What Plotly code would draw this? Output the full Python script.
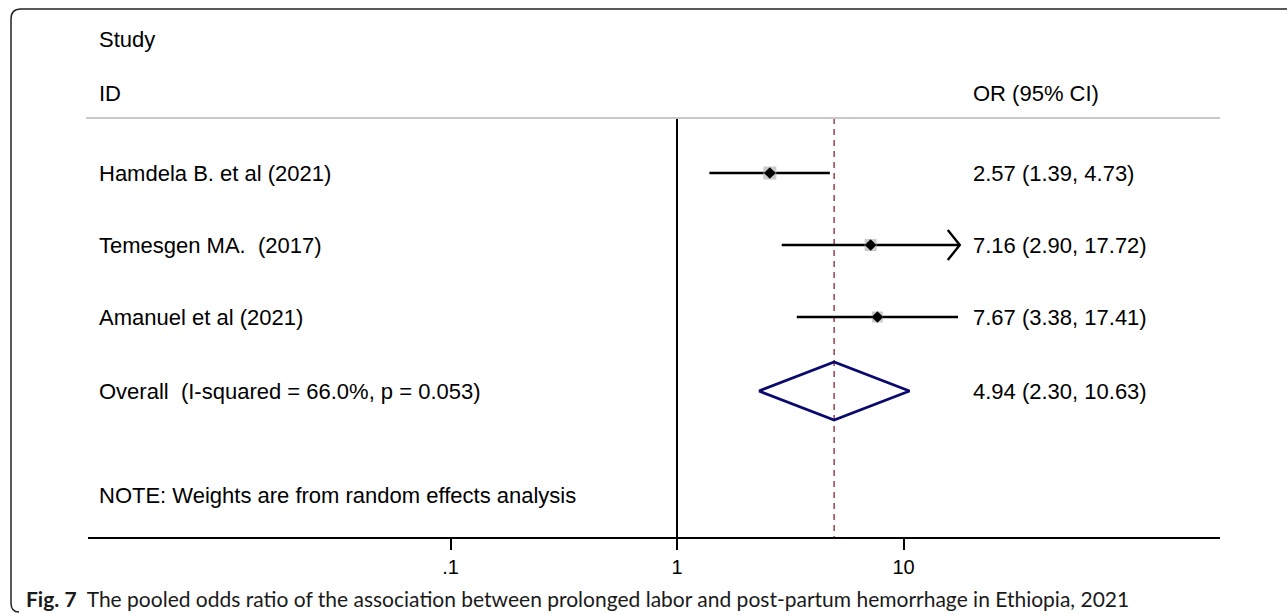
import math
import plotly.graph_objects as go

# ---- data ----
studies = ["Hamdela B. et al (2021)", "Temesgen MA.  (2017)", "Amanuel et al (2021)"]
or_est = [2.57, 7.16, 7.67]
ci_low = [1.39, 2.90, 3.38]
ci_high = [4.73, 17.72, 17.41]
overall_label = "Overall  (I-squared = 66.0%, p = 0.053)"
overall_est = 4.94
overall_low = 2.30
overall_high = 10.63
tick_vals = [0.1, 1, 10]
tick_text = [".1", "1", "10"]
note = "NOTE: Weights are from random effects analysis"
caption_bold = "Fig. 7"
caption_rest = "  The pooled odds ratio of the association between prolonged labor and post-partum hemorrhage in Ethiopia, 2021"

# ---- layout geometry (pixels) ----
W, H = 1287, 613
ax_left, ax_right, ax_y = 88, 1220, 537
px_one, px_decade = 677, 226.5
row_y = [173, 245, 317]
overall_y = 391
header_line_y = 118
name_x = 97
est_x = 971
box_sizes = [13, 12, 11]

log_lo = (ax_left - px_one) / px_decade
log_hi = (ax_right - px_one) / px_decade

FONT = "Arial, Liberation Sans, Helvetica, sans-serif"
TXT = dict(family=FONT, size=22, color="#000000")

fig = go.Figure()

# null line at OR = 1
fig.add_trace(go.Scatter(x=[1, 1], y=[header_line_y, ax_y], mode="lines",
                         line=dict(color="#000000", width=2), hoverinfo="skip"))
# pooled estimate reference line
fig.add_trace(go.Scatter(x=[overall_est, overall_est], y=[header_line_y, ax_y], mode="lines",
                         line=dict(color="#a34a55", width=1.6, dash="6px,5px"), hoverinfo="skip"))

# confidence interval lines
for y, lo, hi in zip(row_y, ci_low, ci_high):
    fig.add_trace(go.Scatter(x=[lo, hi], y=[y, y], mode="lines",
                             line=dict(color="#000000", width=2.4), hoverinfo="skip"))

# arrow head on the interval that runs past the plotted range
arrow_back = 12 / px_decade
arrow_half = 15
i_arrow = 1
tip = ci_high[i_arrow]
back = 10 ** (math.log10(tip) - arrow_back)
fig.add_trace(go.Scatter(x=[back, tip, back],
                         y=[row_y[i_arrow] - arrow_half, row_y[i_arrow], row_y[i_arrow] + arrow_half],
                         mode="lines", line=dict(color="#000000", width=2.4), hoverinfo="skip"))

# weight boxes and point estimates
fig.add_trace(go.Scatter(x=or_est, y=row_y, mode="markers",
                         marker=dict(symbol="square", size=box_sizes, color="#b3b3b3", line=dict(width=0)),
                         hoverinfo="skip"))
fig.add_trace(go.Scatter(x=or_est, y=row_y, mode="markers",
                         marker=dict(symbol="diamond", size=9, color="#000000", line=dict(width=0)),
                         hoverinfo="skip"))

# pooled diamond
fig.add_trace(go.Scatter(x=[overall_low, overall_est, overall_high, overall_est, overall_low],
                         y=[overall_y, overall_y - 29, overall_y, overall_y + 29, overall_y],
                         mode="lines", line=dict(color="#0a0a6e", width=2.8), hoverinfo="skip"))

annotations = []


def text(x_px, y_px, s, font=TXT):
    annotations.append(dict(x=x_px / W, y=y_px, xref="paper", yref="y", text=s, showarrow=False,
                            xanchor="left", yanchor="middle", font=font))


text(name_x, 39, "Study")
text(name_x, 93, "ID")
text(est_x, 93, "OR (95% CI)")
for y, name, e, lo, hi in zip(row_y, studies, or_est, ci_low, ci_high):
    text(name_x, y, name)
    text(est_x, y, f"{e:.2f} ({lo:.2f}, {hi:.2f})")
text(name_x, overall_y, overall_label)
text(est_x, overall_y, f"{overall_est:.2f} ({overall_low:.2f}, {overall_high:.2f})")
text(name_x, 495, note)

# figure caption
CAP = dict(family="Lato, Liberation Sans, sans-serif", size=21, color="#1a1a1a")
annotations.append(dict(x=24 / W, y=1 - 598 / H, xref="paper", yref="paper",
                        text=f"<b>{caption_bold}</b>{caption_rest}", showarrow=False,
                        xanchor="left", yanchor="middle", font=CAP))


def px(x, y):
    return f"{x / W:.5f},{1 - y / H:.5f}"


frame_path = (f"M {px(W + 2, 9)} L {px(21, 9)} Q {px(11, 9)} {px(11, 19)} "
              f"L {px(11, 603)} Q {px(11, 612)} {px(19, 612)}")

shapes = [
    dict(type="line", xref="paper", yref="y", x0=86 / W, x1=ax_right / W, y0=header_line_y, y1=header_line_y,
         line=dict(color="#c8c8c8", width=2)),
    dict(type="path", xref="paper", yref="paper", path=frame_path, line=dict(color="#222222", width=1.5)),
]

fig.update_layout(
    width=W, height=H,
    margin=dict(l=0, r=0, t=0, b=0),
    paper_bgcolor="#ffffff", plot_bgcolor="#ffffff",
    showlegend=False,
    annotations=annotations,
    shapes=shapes,
    xaxis=dict(type="log", domain=[ax_left / W, ax_right / W], range=[log_lo, log_hi],
               tickvals=tick_vals, ticktext=tick_text, ticks="outside", ticklen=11, tickwidth=2,
               tickcolor="#000000", showline=True, linecolor="#000000", linewidth=2,
               showgrid=False, zeroline=False, tickfont=dict(family=FONT, size=20, color="#000000")),
    yaxis=dict(domain=[(H - ax_y) / H, 1], range=[ax_y, 0], visible=False, showgrid=False, zeroline=False),
)

fig.write_html("out.html")
